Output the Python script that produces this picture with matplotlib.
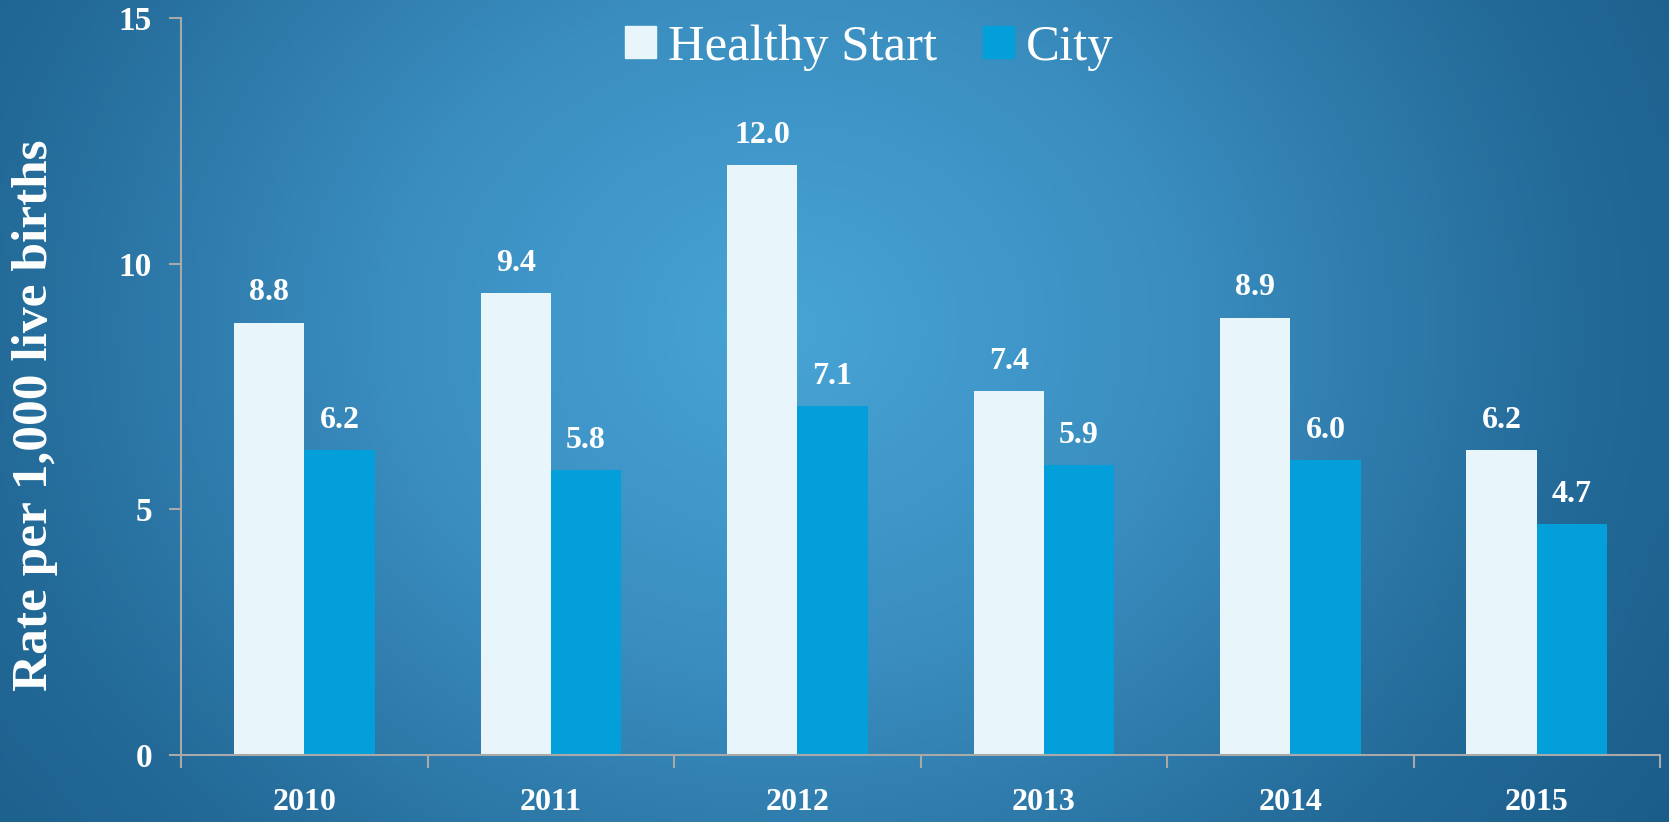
import numpy as np
import matplotlib
matplotlib.use("Agg")
import matplotlib.pyplot as plt
from matplotlib.patches import Patch
from matplotlib.colors import LinearSegmentedColormap

years = ["2010", "2011", "2012", "2013", "2014", "2015"]
healthy_start = [8.8, 9.4, 12.0, 7.4, 8.9, 6.2]
city = [6.2, 5.8, 7.1, 5.9, 6.0, 4.7]
series_names = ["Healthy Start", "City"]
series_colors = ["#e8f6fb", "#029fda"]

plt.rcParams['font.family'] = ['Liberation Serif', 'DejaVu Serif']

fig = plt.figure(figsize=(16.69, 8.22), dpi=100)

# radial gradient background
bg = fig.add_axes([0, 0, 1, 1], zorder=-10)
gx, gy = np.meshgrid(np.linspace(0, 1, 400), np.linspace(0, 1, 200))
r = np.sqrt(((gx - 0.47) / 0.72) ** 2 + ((gy - 0.40) / 1.25) ** 2)
r = np.clip(r, 0, 1)
cmap = LinearSegmentedColormap.from_list("bg", ["#48a4d6", "#3a8dbf", "#236a98", "#165582"])
bg.imshow(r, cmap=cmap, extent=[0, 1, 0, 1], origin="upper", aspect="auto", vmin=0, vmax=1)
bg.set_axis_off()

ax = fig.add_axes([0.1085, 0.0815, 0.8861, 0.8965])
ax.set_facecolor("none")

x = np.arange(len(years))
w = 0.285
bars1 = ax.bar(x - w / 2, healthy_start, width=w, color=series_colors[0])
bars2 = ax.bar(x + w / 2, city, width=w, color=series_colors[1])

for rects, vals in [(bars1, healthy_start), (bars2, city)]:
    for rect, v in zip(rects, vals):
        ax.annotate("%.1f" % v, (rect.get_x() + rect.get_width() / 2, rect.get_height()),
                    xytext=(0, 11), textcoords="offset points", ha="center", va="bottom",
                    color="white", fontsize=23, fontweight="bold")

ax.set_xlim(-0.5, len(years) - 0.5)
ax.set_ylim(0, 15)
ax.set_yticks([0, 5, 10, 15])
ax.set_xticks(x)
ax.set_xticklabels(years)
ax.set_xticks(np.arange(-0.5, len(years)), minor=True)

for s in ["top", "right"]:
    ax.spines[s].set_visible(False)
for s in ["left", "bottom"]:
    ax.spines[s].set_color("#a9a9a9")
    ax.spines[s].set_linewidth(1.5)

ax.tick_params(axis="y", length=9, width=1.5, color="#a9a9a9", pad=12,
               labelsize=24, labelcolor="white")
ax.tick_params(axis="x", which="major", length=0, pad=24, labelsize=23, labelcolor="white")
ax.tick_params(axis="x", which="minor", length=9, width=1.5, color="#a9a9a9")
for lab in ax.get_xticklabels() + ax.get_yticklabels():
    lab.set_fontweight("bold")

fig.text(0.021, 0.495, "Rate per 1,000 live births", rotation=90, ha="center", va="center",
         color="white", fontsize=37, fontweight="bold")

handles = [Patch(color=c, label=n) for c, n in zip(series_colors, series_names)]
leg = fig.legend(handles=handles, loc="center", bbox_to_anchor=(0.521, 0.942), ncol=2,
                 frameon=False, fontsize=36.5, handlelength=0.6, handleheight=0.6,
                 handletextpad=0.25, columnspacing=0.9)
for t in leg.get_texts():
    t.set_color("white")

plt.savefig("out.png", dpi=100)
plt.close(fig)
